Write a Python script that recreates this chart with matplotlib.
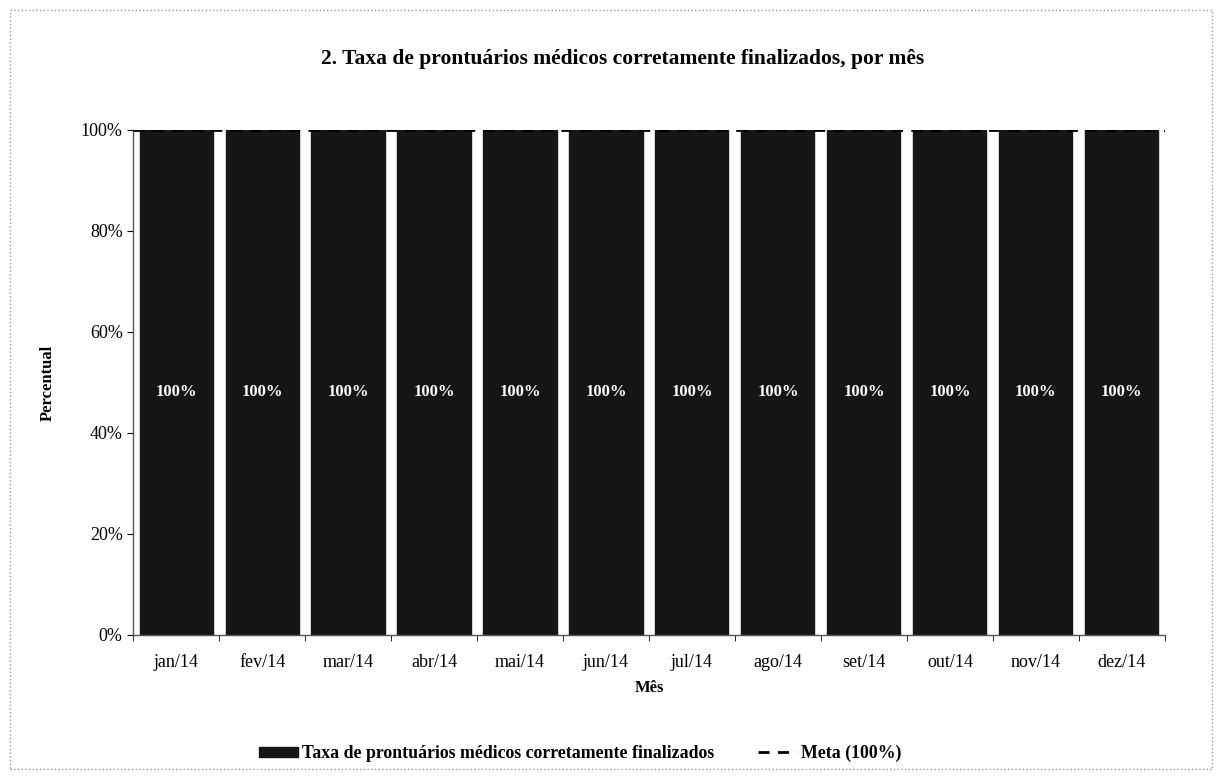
import matplotlib.pyplot as plt
import numpy as np
from matplotlib.patches import Rectangle
from matplotlib.ticker import FuncFormatter

meses = ['jan/14', 'fev/14', 'mar/14', 'abr/14', 'mai/14', 'jun/14',
         'jul/14', 'ago/14', 'set/14', 'out/14', 'nov/14', 'dez/14']
taxa = [100, 100, 100, 100, 100, 100, 100, 100, 100, 100, 100, 100]
meta = [100, 100, 100, 100, 100, 100, 100, 100, 100, 100, 100, 100]

plt.rcParams['font.family'] = ['Liberation Serif', 'DejaVu Serif']

fig = plt.figure(figsize=(12.21, 7.78), dpi=100)
ax = fig.add_axes([0.109, 0.184, 0.845, 0.649])

x = np.arange(len(meses))
bars = ax.bar(x, taxa, width=0.85, color='#161616', edgecolor='#161616',
              label='Taxa de prontuários médicos corretamente finalizados', zorder=2)
line, = ax.plot(np.r_[x[0] - 0.5, x, x[-1] + 0.5], [meta[0]] + meta + [meta[-1]],
                color='black', linestyle=(0, (4, 3)), linewidth=2,
                label='Meta (100%)', zorder=3)

# value labels inside the bars
for xi, v in zip(x, taxa):
    ax.text(xi, v * 0.48, f'{v}%', ha='center', va='center',
            color='white', fontsize=12, fontweight='bold', zorder=4)

ax.set_xlim(-0.5, len(meses) - 0.5)
ax.set_ylim(0, 100)
ax.set_yticks(np.arange(0, 101, 20))
ax.yaxis.set_major_formatter(FuncFormatter(lambda v, p: f'{v:.0f}%'))
ax.set_xticks(x)
ax.set_xticklabels(meses, fontsize=13)
ax.tick_params(axis='x', length=0, pad=14)
ax.set_xticks(np.arange(-0.5, len(meses), 1), minor=True)
ax.tick_params(axis='x', which='minor', length=4, direction='out')
ax.tick_params(axis='y', labelsize=13, length=4, direction='out')

for s in ['top', 'right']:
    ax.spines[s].set_visible(False)
for s in ['left', 'bottom']:
    ax.spines[s].set_color('#555555')
    ax.spines[s].set_linewidth(1)

ax.set_ylabel('Percentual', fontsize=12, fontweight='bold', labelpad=18)
ax.set_xlabel('Mês', fontsize=12, fontweight='bold', labelpad=6)

fig.suptitle('2. Taxa de prontuários médicos corretamente finalizados, por mês',
             x=0.51, y=0.937, fontsize=15.5, fontweight='bold')

fig.legend(handles=[bars, line], loc='lower center', bbox_to_anchor=(0.475, 0.0),
           ncol=2, frameon=False, prop={'weight': 'bold', 'size': 12.8},
           handlelength=2.2, handleheight=0.5, handletextpad=0.2, columnspacing=2.5)

# chart border
fig.add_artist(Rectangle((0.008, 0.012), 0.985, 0.975, transform=fig.transFigure,
                         fill=False, edgecolor='#999999', linestyle=':', linewidth=1))

fig.savefig('out.png', dpi=100)
